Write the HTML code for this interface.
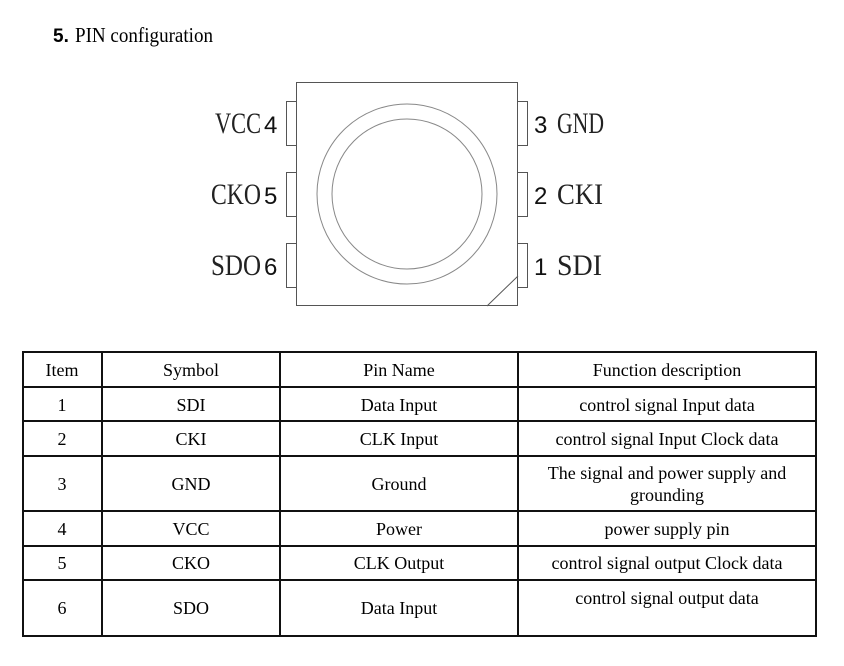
<!DOCTYPE html>
<html><head><meta charset="utf-8"><style>
html,body{margin:0;padding:0;background:#fff;}
svg{display:block;}
</style></head><body>
<svg width="844" height="666" viewBox="0 0 844 666" xmlns="http://www.w3.org/2000/svg">
<text x="53" y="42" font-family="Liberation Sans, sans-serif" font-weight="bold" font-size="19" fill="#000">5.</text>
<text x="75" y="42" font-family="Liberation Serif, serif" font-size="21" fill="#000" textLength="138" lengthAdjust="spacingAndGlyphs">PIN configuration</text>

<g fill="#fff" stroke="#555" stroke-width="1">
<rect x="286.5" y="101.5" width="10" height="44"/>
<rect x="286.5" y="172.5" width="10" height="44"/>
<rect x="286.5" y="243.5" width="10" height="44"/>
<rect x="517.5" y="101.5" width="10" height="44"/>
<rect x="517.5" y="172.5" width="10" height="44"/>
<rect x="517.5" y="243.5" width="10" height="44"/>
<rect x="296.5" y="82.5" width="221" height="223"/>
<circle cx="407" cy="194" r="90" stroke="#888"/>
<circle cx="407" cy="194" r="75" stroke="#888"/>
<line x1="518" y1="276" x2="487" y2="306"/>
</g>

<g font-family="Liberation Serif, serif" font-size="30" fill="#222">
<text x="215" y="133" textLength="46" lengthAdjust="spacingAndGlyphs">VCC</text>
<text x="211" y="204" textLength="50" lengthAdjust="spacingAndGlyphs">CKO</text>
<text x="211" y="275" textLength="50" lengthAdjust="spacingAndGlyphs">SDO</text>
<text x="557" y="133" textLength="47" lengthAdjust="spacingAndGlyphs">GND</text>
<text x="557" y="204" textLength="46" lengthAdjust="spacingAndGlyphs">CKI</text>
<text x="557" y="275" textLength="45" lengthAdjust="spacingAndGlyphs">SDI</text>
</g>
<g font-family="Liberation Sans, sans-serif" font-size="24" fill="#111">
<text x="264" y="133">4</text>
<text x="264" y="204">5</text>
<text x="264" y="275">6</text>
<text x="534" y="133">3</text>
<text x="534" y="204">2</text>
<text x="534" y="275">1</text>
</g>

<g stroke="#111" stroke-width="2" fill="none">
<rect x="23" y="352" width="793" height="284"/>
<line x1="102" y1="352" x2="102" y2="636"/>
<line x1="280" y1="352" x2="280" y2="636"/>
<line x1="518" y1="352" x2="518" y2="636"/>
<line x1="23" y1="387" x2="816" y2="387"/>
<line x1="23" y1="421" x2="816" y2="421"/>
<line x1="23" y1="456" x2="816" y2="456"/>
<line x1="23" y1="511" x2="816" y2="511"/>
<line x1="23" y1="546" x2="816" y2="546"/>
<line x1="23" y1="580" x2="816" y2="580"/>
</g>

<g font-family="Liberation Serif, serif" font-size="18" fill="#000" text-anchor="middle">
<text x="62" y="376">Item</text><text x="191" y="376">Symbol</text><text x="399" y="376">Pin Name</text><text x="667" y="376">Function description</text>
<text x="62" y="411">1</text><text x="191" y="411">SDI</text><text x="399" y="411">Data Input</text><text x="667" y="411">control signal Input data</text>
<text x="62" y="445">2</text><text x="191" y="445">CKI</text><text x="399" y="445">CLK Input</text><text x="667" y="445">control signal Input Clock data</text>
<text x="62" y="490">3</text><text x="191" y="490">GND</text><text x="399" y="490">Ground</text><text x="667" y="479">The signal and power supply and</text><text x="667" y="501">grounding</text>
<text x="62" y="535">4</text><text x="191" y="535">VCC</text><text x="399" y="535">Power</text><text x="667" y="535">power supply pin</text>
<text x="62" y="569">5</text><text x="191" y="569">CKO</text><text x="399" y="569">CLK Output</text><text x="667" y="569">control signal output Clock data</text>
<text x="62" y="614">6</text><text x="191" y="614">SDO</text><text x="399" y="614">Data Input</text><text x="667" y="604">control signal output data</text>
</g>
</svg>
</body></html>
